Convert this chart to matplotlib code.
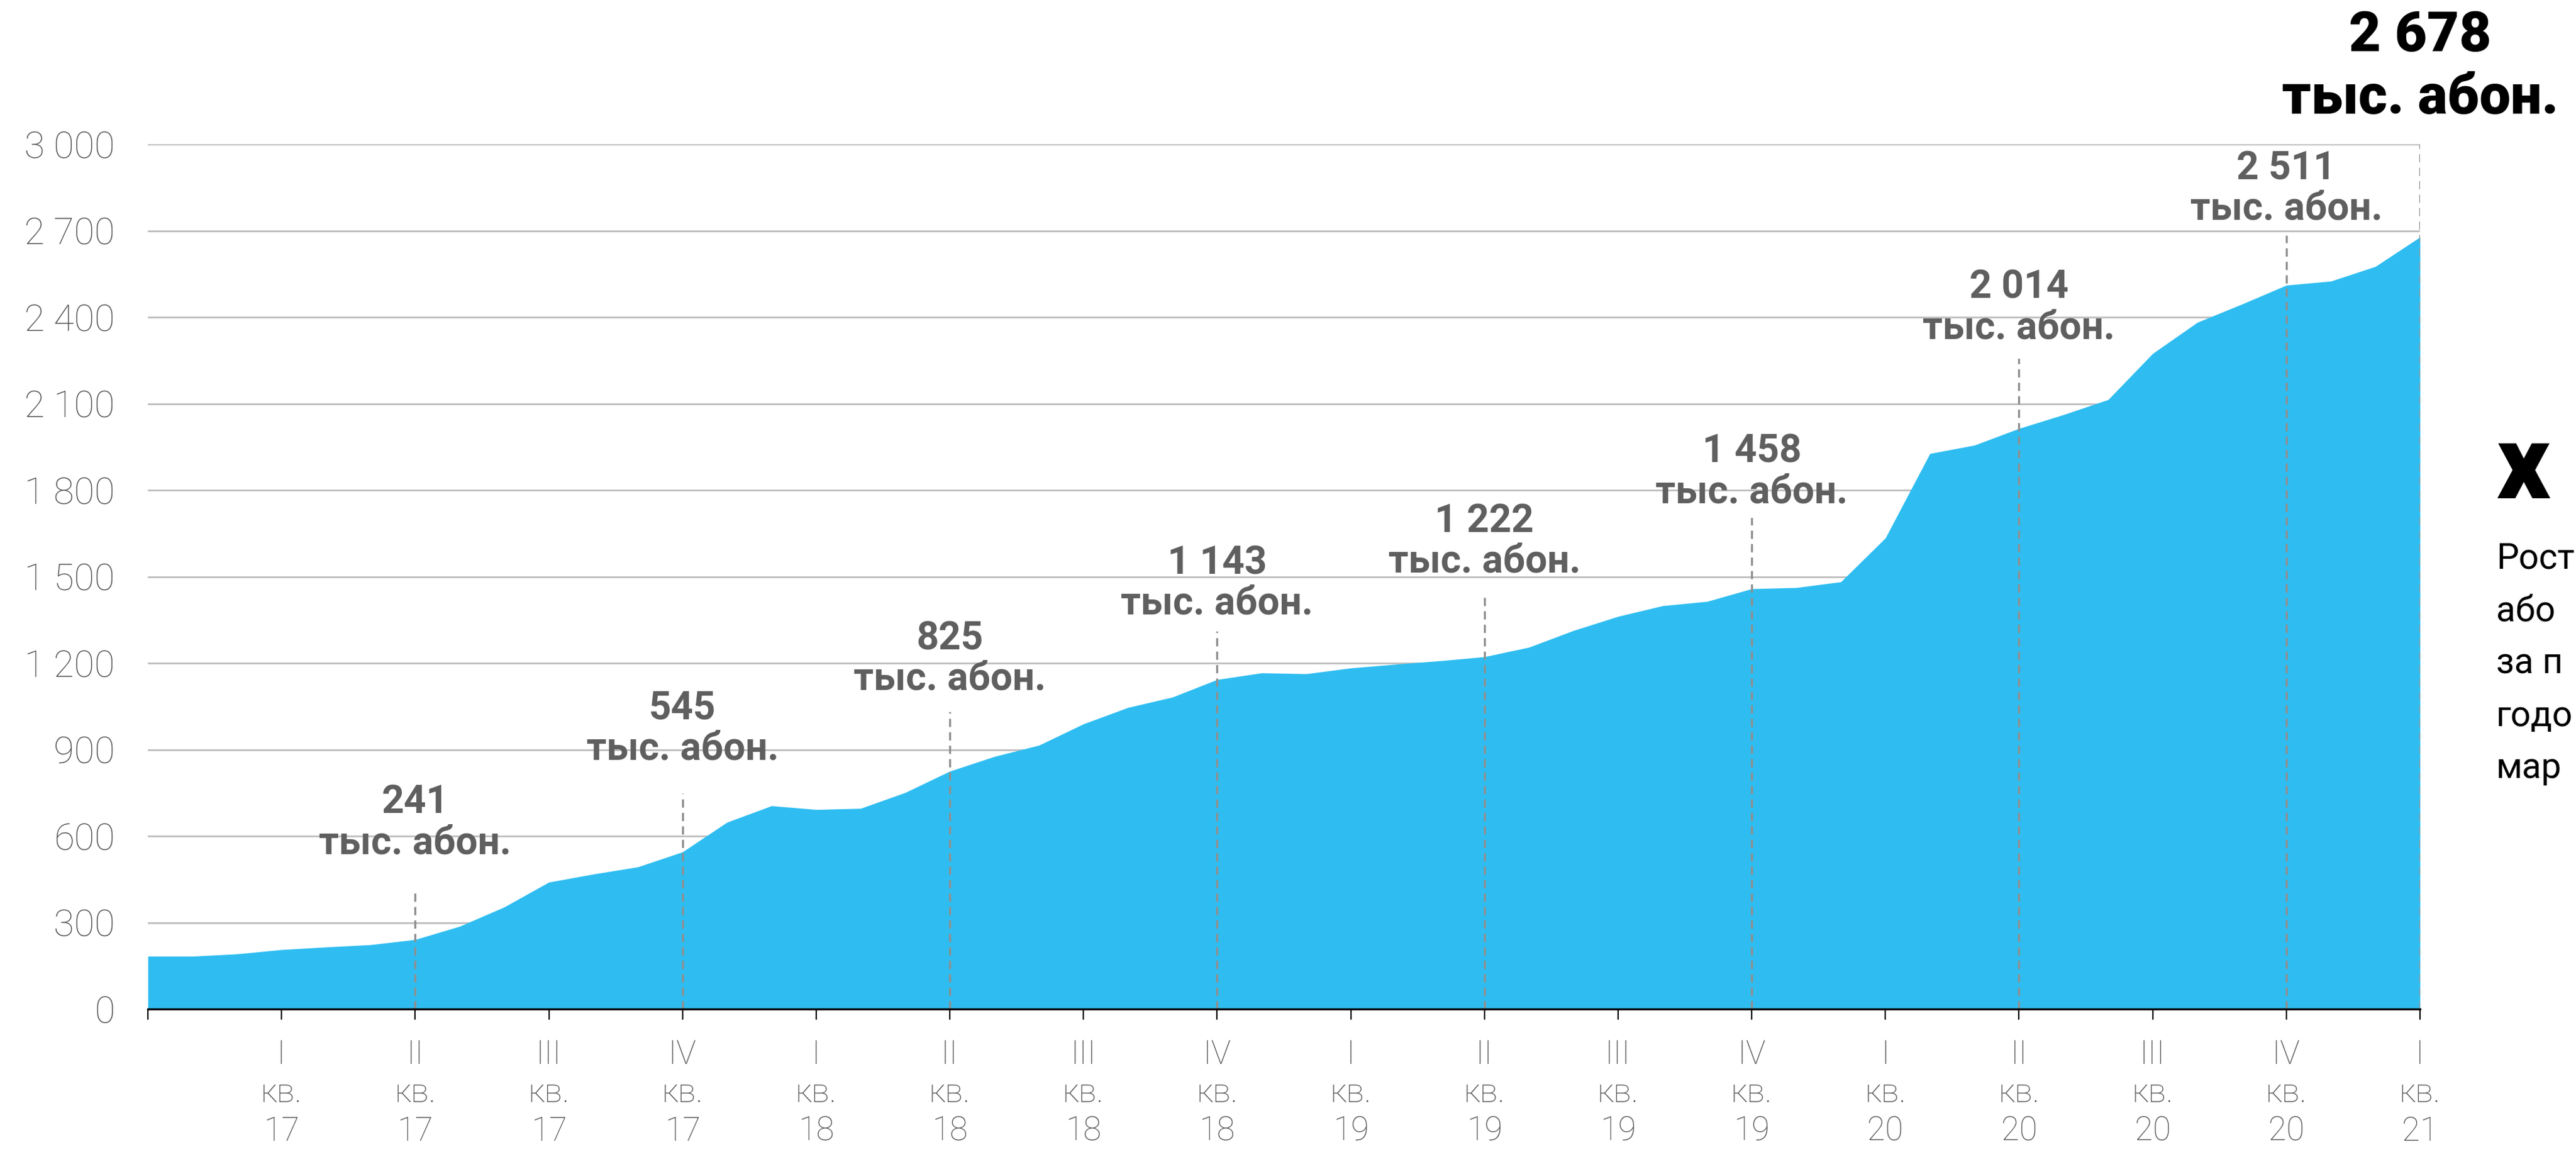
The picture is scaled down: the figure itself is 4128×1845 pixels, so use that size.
import numpy as np
import matplotlib
matplotlib.use("Agg")
import matplotlib.pyplot as plt

plt.rcParams['font.family'] = ['Roboto', 'DejaVu Sans']
plt.rcParams['lines.scale_dashes'] = False

# ---------------- data ----------------
values = [183, 183, 191, 206, 215, 223, 241, 287, 354, 440, 468, 493,
          545, 648, 705, 692, 696, 751, 825, 876, 915, 989, 1046, 1082,
          1143, 1166, 1163, 1183, 1196, 1208, 1222, 1255, 1313, 1362, 1399, 1414,
          1458, 1462, 1482, 1634, 1927, 1956, 2014, 2062, 2114, 2274, 2382, 2445,
          2511, 2525, 2576, 2678]
quarters = ['I', 'II', 'III', 'IV'] * 4 + ['I']
years = ['17'] * 4 + ['18'] * 4 + ['19'] * 4 + ['20'] * 4 + ['21']
callout_idx = [6, 12, 18, 24, 30, 36, 42, 48]
callout_text = ['241', '545', '825', '1 143', '1 222', '1 458', '2 014', '2 511']
final_text = '2 678'
unit = 'тыс. абон.'
ytick_vals = [0, 300, 600, 900, 1200, 1500, 1800, 2100, 2400, 2700, 3000]
ytick_labels = ['0', '300', '600', '900', '1 200', '1 500', '1 800', '2 100', '2 400', '2 700', '3 000']
# side note: only the part visible inside the picture
side_mark = 'x'
side_text = ['Рост', 'або', 'за п', 'годо', 'мар']

# ---------------- layout (annotation placement, data units) ----------------
label_y = [576, 903, 1144, 1406, 1551, 1793, 2363, 2775]
dash_top = [411, 748, 1031, 1311, 1445, 1705, 2257, 2684]

W, H = 4128, 1845
fig = plt.figure(figsize=(W / 100, H / 100), dpi=100)
ax = fig.add_axes([237 / W, 1 - 1616 / H, (3878 - 237) / W, (1616 - 231) / H])

x = np.arange(len(values))
ax.fill_between(x, values, 0, color='#2fbdf1', lw=0, zorder=2)
ax.set_xlim(0, len(values) - 1)
ax.set_ylim(0, 3000)

ax.set_yticks(ytick_vals)
ax.set_yticklabels(ytick_labels)
ax.yaxis.grid(True, color='#bdbdbd', lw=2.0, zorder=1)
ax.set_axisbelow(True)
ax.tick_params(axis='y', length=0, pad=38, labelsize=43, labelcolor='#555555')
for t in ax.get_yticklabels():
    t.set_fontweight('light')

qt = np.arange(0, len(values), 3)
ax.set_xticks(qt)
ax.set_xticklabels([''] + [f'{q}\nкв.\n{y}' for q, y in zip(quarters, years)])
ax.tick_params(axis='x', length=12, width=1.6, color='black', pad=22,
               labelsize=38, labelcolor='#555555')
for t in ax.get_xticklabels():
    t.set_fontweight('light')
    t.set_linespacing(1.25)

for s in ['top', 'right', 'left']:
    ax.spines[s].set_visible(False)
ax.spines['bottom'].set_linewidth(2.4)
ax.spines['bottom'].set_color('black')
ax.spines['bottom'].set_zorder(4)

# callouts
for i, txt, ly, dt in zip(callout_idx, callout_text, label_y, dash_top):
    ax.plot([i, i], [0, dt], color='#8f8f8f', lw=2.4, dashes=(9.5, 6), zorder=3)
    ax.text(i, ly, unit, ha='center', va='center', fontsize=45, fontweight='bold',
            color='#5f5f5f', zorder=5)
    ax.text(i, ly + 140, txt, ha='center', va='center', fontsize=45, fontweight='bold',
            color='#5f5f5f', zorder=5)

last = len(values) - 1
ax.plot([last, last], [0, 3000], color='#8f8f8f', lw=2.4, dashes=(9.5, 6), zorder=3)
ax.text(last, 3160, unit, ha='center', va='center', fontsize=64, fontweight='black',
        color='black', clip_on=False)
ax.text(last, 3375, final_text, ha='center', va='center', fontsize=64, fontweight='black',
        color='black', clip_on=False)

# side panel
fig.text(4000 / W, 1 - 752 / H, side_mark, ha='left', va='center', fontsize=120,
         fontweight='black', color='black')
for k, line in enumerate(side_text):
    fig.text(4000 / W, 1 - (895 + 84 * k) / H, line, ha='left', va='center',
             fontsize=41, color='black')

fig.savefig('out.png', dpi=100)
